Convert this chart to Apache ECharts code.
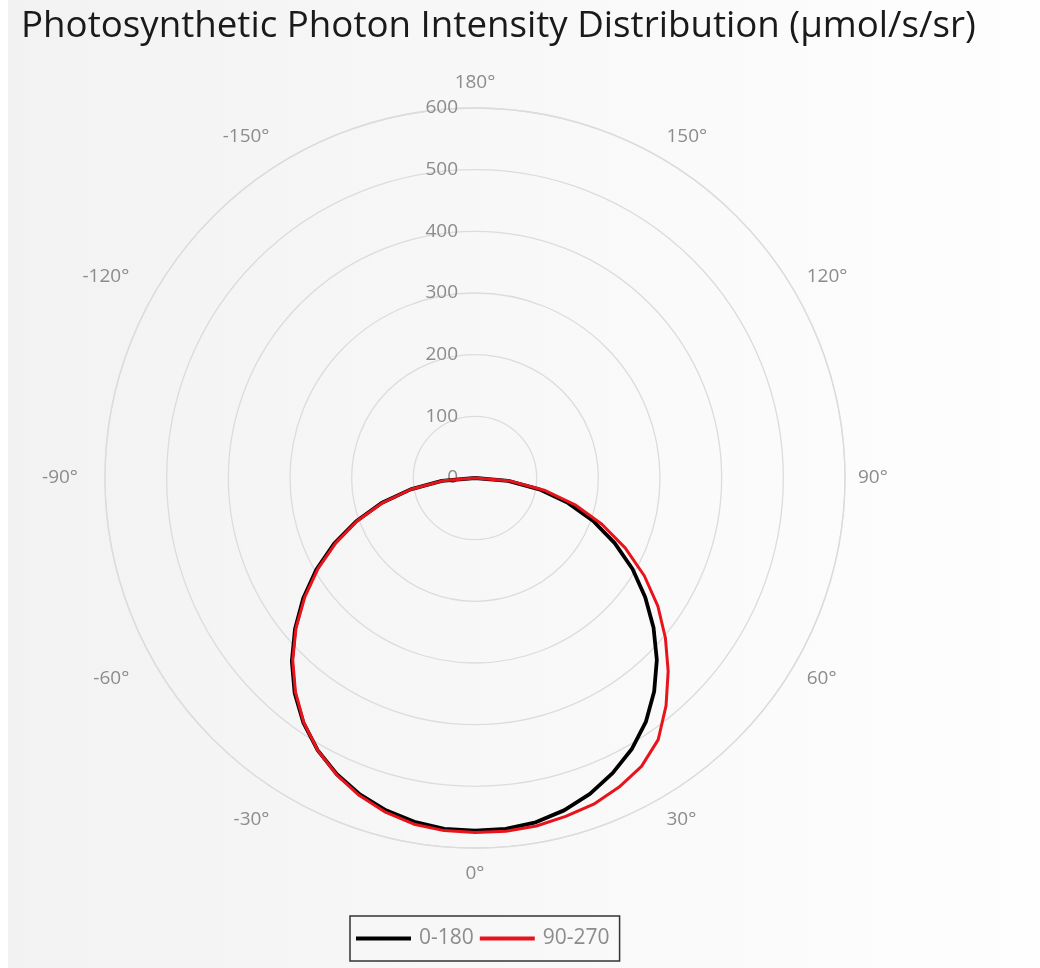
<!DOCTYPE html>
<html>
<head>
<meta charset="utf-8">
<script src="https://cdn.jsdelivr.net/npm/echarts@6/dist/echarts.min.js"></script>
<style>
  html, body { margin: 0; padding: 0; background: #ffffff; }
  #chart { width: 1040px; height: 968px; }
</style>
</head>
<body>
<div id="chart"></div>
<script>
// Angles (degrees) at which intensities were measured
var angles = [-90, -85, -80, -75, -70, -65, -60, -55, -50, -45, -40, -35, -30, -25, -20, -15, -10, -5,
              0, 5, 10, 15, 20, 25, 30, 35, 40, 45, 50, 55, 60, 65, 70, 75, 80, 85, 90];
// Plane 0-180 (black)
var plane0_180 = [0, 54, 106, 157, 205, 252, 297, 340, 381, 420, 455, 485, 510, 530, 546, 558, 566, 571,
                  572, 571, 567, 558, 545, 528, 508, 483, 452, 417, 378, 337, 295, 250, 204, 156, 106, 54, 0];
// Plane 90-270 (red)
var plane90_270 = [0, 53, 105, 155, 203, 249, 294, 337, 379, 418, 453, 484, 510, 531, 548, 561, 570, 574,
                   575, 575, 573, 568, 563, 553, 540, 518, 482, 443, 403, 362, 317, 269, 219, 168, 114, 58, 0];
var seriesNames = ['0-180', '90-270'];
var radiusTicks = [0, 100, 200, 300, 400, 500, 600];

function pairs(vals) {
  return vals.map(function (v, i) { return [v, angles[i]]; });
}

var chart = echarts.init(document.getElementById('chart'), null, { renderer: 'canvas' });
var labelFont = 'Open Sans';
var gray = '#8c8c8c';
chart.setOption({
  backgroundColor: {
    type: 'linear', x: 0, y: 0, x2: 1, y2: 0,
    colorStops: [{ offset: 0, color: '#f2f2f2' }, { offset: 1, color: '#fefefe' }]
  },
  graphic: [{
    type: 'rect', left: 0, top: 0, shape: { width: 8, height: 968 },
    style: { fill: '#ffffff' }, silent: true
  }],
  title: {
    text: 'Photosynthetic Photon Intensity Distribution (\u00b5mol/s/sr)',
    left: 16, top: 3,
    textStyle: { fontFamily: labelFont, fontSize: 36.7, fontWeight: 'normal', color: '#1a1a1a' }
  },
  legend: {
    data: [
      { name: seriesNames[0], icon: 'rect', itemStyle: { color: '#000000' } },
      { name: seriesNames[1], icon: 'rect', itemStyle: { color: '#e8141c' } }
    ],
    left: 350, bottom: 7,
    orient: 'horizontal',
    borderColor: '#333333', borderWidth: 1.5, borderRadius: 0,
    padding: [12, 10, 12, 6],
    itemWidth: 55, itemHeight: 4, itemGap: 6,
    textStyle: { fontFamily: labelFont, fontSize: 21, color: gray, padding: [0, 0, 0, 3] }
  },
  polar: { center: [475, 478], radius: 370 },
  angleAxis: {
    type: 'value', min: -180, max: 180, interval: 30,
    startAngle: 90, clockwise: false,
    axisLine: { show: true, lineStyle: { color: '#dcdcdc', width: 1.3 } },
    axisTick: { show: false },
    splitLine: { show: false },
    axisLabel: {
      margin: 13, color: gray, fontFamily: labelFont, fontSize: 19,
      formatter: function (v) {
        if (v === 180) return '';
        if (v === -180) return '{t|180\u00b0}';
        if (v < 0) return '{n|' + v + '\u00b0}';
        if (v === 0) return '{t|0\u00b0}';
        return v + '\u00b0';
      },
      rich: {
        n: { fontFamily: labelFont, fontSize: 19, color: gray, padding: [0, 14, 0, 0] },
        t: { fontFamily: labelFont, fontSize: 19, color: gray, padding: [3, 0, 3, 0] }
      }
    }
  },
  radiusAxis: {
    type: 'value', min: radiusTicks[0], max: radiusTicks[radiusTicks.length - 1], interval: 100,
    axisLine: { show: false }, axisTick: { show: false },
    splitLine: { show: true, lineStyle: { color: '#dcdcdc', width: 1.3 } },
    axisLabel: { margin: 17, color: gray, fontFamily: labelFont, fontSize: 19 }
  },
  series: [{
    name: seriesNames[0], type: 'line', coordinateSystem: 'polar',
    data: pairs(plane0_180), symbol: 'none', smooth: false,
    lineStyle: { color: '#000000', width: 3.8 }, itemStyle: { color: '#000000' }
  }, {
    name: seriesNames[1], type: 'line', coordinateSystem: 'polar',
    data: pairs(plane90_270), symbol: 'none', smooth: false,
    lineStyle: { color: '#e8141c', width: 3 }, itemStyle: { color: '#e8141c' }
  }],
  animation: false
});
</script>
</body>
</html>
